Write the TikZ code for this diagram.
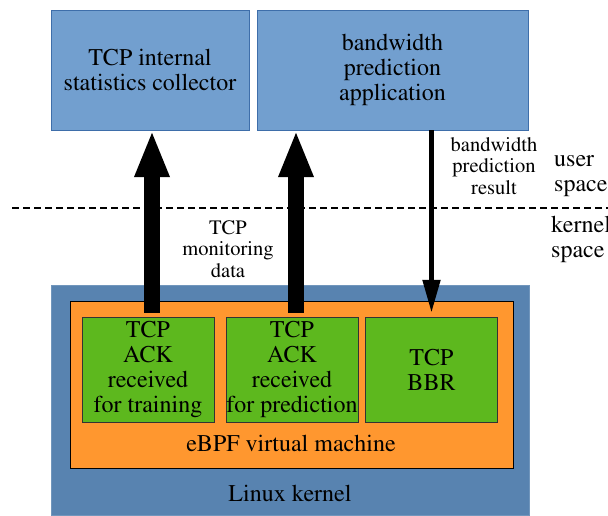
\documentclass[tikz,border=0pt]{standalone}
\usepackage[T1]{fontenc}
\usepackage{mathptmx}
\usetikzlibrary{arrows.meta, positioning}
\definecolor{appblue}{RGB}{114,159,207}
\definecolor{appborder}{RGB}{62,110,170}
\definecolor{kernelblue}{RGB}{88,131,176}
\definecolor{vmorange}{RGB}{255,151,47}
\definecolor{proggreen}{RGB}{93,184,30}
\newcommand{\bigtext}{\rmfamily\fontsize{24}{25}\selectfont}
\newcommand{\smalltext}{\rmfamily\fontsize{20.5}{21.5}\selectfont}
\tikzset{
  userbox/.style={rectangle, draw=appborder, fill=appblue, align=center, font=\bigtext, inner sep=0pt},
  kernelbox/.style={rectangle, draw=kernelblue!85!white, fill=kernelblue, inner sep=0pt},
  vmbox/.style={rectangle, draw=black, fill=vmorange, inner sep=0pt},
  progbox/.style={rectangle, draw=black!80, fill=proggreen, align=center, font=\bigtext,
    minimum width=132pt, minimum height=105pt, inner sep=0pt},
  plain/.style={align=center, font=\bigtext, inner sep=0pt},
  note/.style={align=center, font=\smalltext, inner sep=0pt},
  sidenote/.style={align=left, anchor=west, font=\bigtext, inner sep=0pt},
  bigarrow/.style={line width=16pt, -{Triangle[width=32pt, length=47pt]}},
  thinarrow/.style={line width=5pt, -{Triangle[width=17pt, length=33pt]}},
  divider/.style={line width=1.2pt, dash pattern=on 7pt off 4pt}
}

\begin{document}
\begin{tikzpicture}[x=1pt, y=-1pt]
\useasboundingbox (0,0) rectangle (608,516);

% user space
\node[userbox, minimum width=198pt, minimum height=120pt] (collector) at (150,70) {TCP internal\\statistics collector};
\node[userbox, minimum width=271pt, minimum height=120pt] (predapp) at (392.5,70) {bandwidth\\prediction\\application};

% kernel space
\node[kernelbox, minimum width=478pt, minimum height=230pt] (kernel) at (290,400) {};
\node[plain] (kernellabel) at (290,493) {Linux kernel};
\node[vmbox, minimum width=443pt, minimum height=167pt] (ebpf) at (291.5,384.5) {};
\node[plain] (ebpflabel) at (291,443) {eBPF virtual machine};

\node[progbox] (train) at (148,369.5) {TCP\\ACK\\received\\for training};
\node[progbox] (pred) at (292,369.5) {TCP\\ACK\\received\\for prediction};
\node[progbox] (bbr) at (431.5,369.5) {TCP\\BBR};

% boundary
\coordinate (dl) at (12,208);
\coordinate (dr) at (608,208);
\draw[divider] (dl) -- (dr);
\node[sidenote] (userlabel) at (554,176) {user\\space};
\node[sidenote] (kernlabel) at (551,239) {kernel\\space};

% labels
\node[note] (monlabel) at (228,249) {TCP\\monitoring\\data};
\node[note] (reslabel) at (494,166) {bandwidth\\prediction\\result};

% arrows
\draw[bigarrow] ([xshift=4pt, yshift=4pt]train.north) -- ([xshift=2pt]collector.south);
\draw[bigarrow] ([xshift=4pt, yshift=4pt]pred.north) -- ([xshift=4pt]pred.north |- predapp.south);
\draw[thinarrow] (bbr.north |- predapp.south) -- ([yshift=4pt]bbr.north);

\end{tikzpicture}
\end{document}
